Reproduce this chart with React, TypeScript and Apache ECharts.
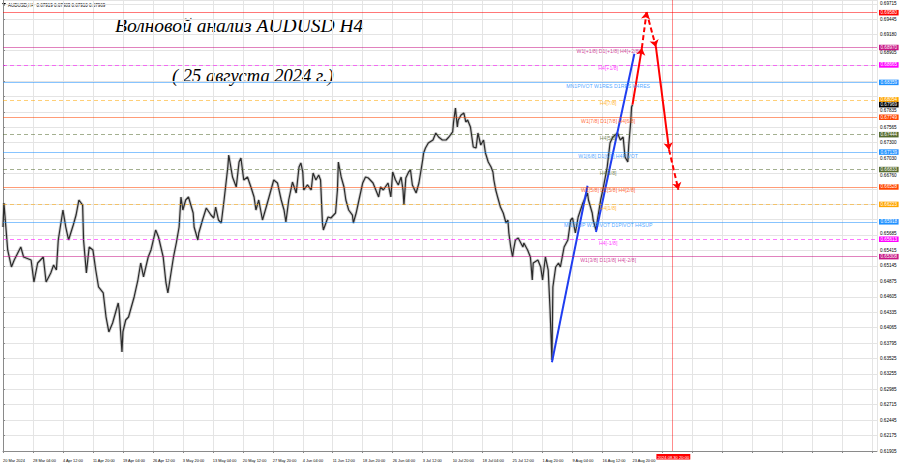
import React, { useEffect, useRef } from 'react';
import * as echarts from 'echarts';

const FONT = '"Liberation Sans", Arial, sans-serif';

const headerText = 'AUDUSD,H4  0.67919 0.67983 0.67910 0.67969';
const titleText = 'Волновой анализ AUDUSD H4';
const subtitleText = '( 25 августа 2024 г.)';

// x axis: one unit = one H4 bar, a label every 32 bars
const dateLabels = [
  '20 Mar 2024', '28 Mar 04:00', '4 Apr 12:00', '11 Apr 20:00', '19 Apr 04:00', '26 Apr 12:00',
  '3 May 20:00', '13 May 04:00', '20 May 12:00', '27 May 20:00', '4 Jun 04:00', '11 Jun 12:00',
  '18 Jun 20:00', '26 Jun 04:00', '3 Jul 12:00', '10 Jul 20:00', '18 Jul 04:00', '25 Jul 12:00',
  '1 Aug 20:00', '9 Aug 04:00', '16 Aug 12:00', '23 Aug 20:00',
];
const barsPerLabel = 32;
const lastVisibleBar = 933;

// y axis tick labels, bottom to top
const priceTickLabels = [
  '0.61905', '0.62175', '0.62445', '0.62715', '0.62985', '0.63255', '0.63525', '0.63795',
  '0.64065', '0.64335', '0.64605', '0.64875', '0.65145', '0.65415', '0.65685', '0.65955',
  '0.66220', '0.66490', '0.66760', '0.67030', '0.67300', '0.67565', '0.67835', '0.68105',
  '0.68365', '0.68635', '0.68905', '0.69180', '0.69445', '0.69715',
];
const priceMin = 0.61905;
const priceMax = 0.69802;
const priceStep = 0.0027;

// price path [bar, price]
const pricePath: [number, number][] = [
  [0, 0.65827], [1, 0.66248], [5, 0.65425], [9, 0.65127], [12, 0.65249], [19, 0.65477], [22, 0.65302],
  [30, 0.65249], [33, 0.64864], [37, 0.65197], [43, 0.65302], [46, 0.64864], [51, 0.65022], [54, 0.65162],
  [57, 0.65074], [59, 0.656], [64, 0.66125], [67, 0.65827], [70, 0.656], [75, 0.65862], [78, 0.66037],
  [81, 0.663], [85, 0.66212], [86, 0.656], [89, 0.65022], [92, 0.65477], [96, 0.65425], [99, 0.65074],
  [102, 0.64777], [107, 0.64672], [110, 0.64251], [113, 0.63989], [117, 0.64146], [123, 0.64497],
  [124, 0.64374], [127, 0.63639], [128, 0.63989], [131, 0.64199], [134, 0.64251], [140, 0.64602],
  [144, 0.64899], [147, 0.65197], [150, 0.64952], [155, 0.65302], [158, 0.65425], [163, 0.65775],
  [166, 0.65652], [171, 0.65302], [174, 0.64847], [176, 0.64672], [179, 0.64987], [182, 0.65302],
  [185, 0.65547], [188, 0.65827], [190, 0.66353], [192, 0.66125], [195, 0.663], [198, 0.66353],
  [203, 0.66072], [204, 0.65827], [208, 0.656], [209, 0.65722], [213, 0.6595], [217, 0.6616],
  [222, 0.66037], [225, 0.65985], [227, 0.66177], [230, 0.6595], [233, 0.65897], [236, 0.663],
  [240, 0.66878], [241, 0.67088], [245, 0.66703], [249, 0.66528], [252, 0.66965], [254, 0.67035],
  [257, 0.6665], [261, 0.66703], [265, 0.6651], [268, 0.66353], [270, 0.66125], [273, 0.663],
  [277, 0.6595], [281, 0.66177], [284, 0.66353], [289, 0.6665], [293, 0.66598], [297, 0.663],
  [300, 0.66125], [302, 0.65915], [305, 0.663], [309, 0.66615], [313, 0.66423], [316, 0.66878],
  [318, 0.66948], [320, 0.6679], [321, 0.66475], [325, 0.66563], [329, 0.66475], [331, 0.66773],
  [334, 0.6665], [337, 0.66738], [339, 0.6665], [341, 0.65897], [342, 0.65775], [347, 0.66002],
  [350, 0.65985], [353, 0.66037], [355, 0.66072], [357, 0.66475], [358, 0.66965], [361, 0.66703],
  [364, 0.66528], [366, 0.663], [369, 0.66125], [373, 0.66037], [374, 0.65897], [377, 0.66072],
  [380, 0.663], [384, 0.66598], [387, 0.66703], [390, 0.66685], [395, 0.66598], [398, 0.66475],
  [401, 0.66353], [403, 0.66528], [406, 0.66475], [411, 0.66598], [414, 0.66353], [416, 0.6679],
  [419, 0.6665], [422, 0.66563], [425, 0.66703], [427, 0.66475], [428, 0.66212], [430, 0.66685],
  [433, 0.6679], [435, 0.66825], [437, 0.66563], [441, 0.66423], [444, 0.66598], [448, 0.67],
  [449, 0.67123], [451, 0.67211], [454, 0.67298], [459, 0.67351], [462, 0.67473], [465, 0.67403],
  [469, 0.67351], [473, 0.67351], [476, 0.67403], [480, 0.67491], [481, 0.67666], [483, 0.67911],
  [485, 0.67578], [486, 0.67701], [489, 0.67788], [492, 0.67823], [494, 0.67666], [496, 0.67701],
  [499, 0.67578], [502, 0.67228], [505, 0.67211], [507, 0.67473], [510, 0.67263], [513, 0.67351],
  [515, 0.67123], [518, 0.66965], [521, 0.66878], [523, 0.6679], [524, 0.6665], [526, 0.66475],
  [528, 0.66353], [531, 0.66177], [534, 0.66072], [537, 0.65897], [539, 0.6595], [540, 0.65722],
  [542, 0.65477], [544, 0.65302], [545, 0.65425], [547, 0.656], [550, 0.65635], [555, 0.65477],
  [556, 0.65547], [560, 0.65425], [563, 0.65302], [565, 0.64899], [566, 0.65197], [571, 0.65249],
  [574, 0.65127], [576, 0.64899], [579, 0.65302], [582, 0.65074], [584, 0.64374], [586, 0.63498],
  [587, 0.64777], [590, 0.65127], [593, 0.65197], [595, 0.65127], [599, 0.65477], [603, 0.656],
  [606, 0.6595], [608, 0.65985], [611, 0.65722], [614, 0.66002], [619, 0.66248], [624, 0.66423],
  [625, 0.663], [629, 0.66072], [630, 0.6595], [633, 0.65775], [635, 0.66002], [638, 0.663],
  [641, 0.66528], [645, 0.66878], [648, 0.67298], [651, 0.67403], [656, 0.67473], [659, 0.67351],
  [662, 0.67403], [664, 0.67053], [667, 0.66965], [668, 0.67263], [670, 0.67648], [671, 0.67928],
  [672, 0.67969],
];
const currentPrice = 0.67969;

// Murrey / pivot levels
const levelPrices = [0.6958, 0.6897, 0.68665, 0.68359, 0.68054, 0.67749, 0.67444, 0.67139, 0.66833, 0.66528, 0.66223, 0.65918, 0.65613, 0.65308];
const levelColors = ['#ff0000', '#c71585', '#ff00ff', '#1e90ff', '#ffa500', '#ff4500', '#556b2f', '#1e90ff', '#556b2f', '#ff4500', '#ffa500', '#1e90ff', '#ff00ff', '#c71585'];
const levelDashed = [false, false, true, false, true, false, true, false, true, false, true, false, true, false];
const levelTexts = [
  '', 'W1[+1/8] D1[+1/8] H4[+2/8]', 'H4[+1/8]', 'MN1PIVOT W1RES D1RES H4RES', 'H4[7/8]',
  'W1[7/8] D1[7/8] H4[6/8]', 'H4[5/8]', 'W1[6/8] D1[6/8] H4PIVOT', 'H4[3/8]', 'W1[5/8] D1[5/8] H4[2/8]',
  'H4[1/8]', 'MN1SUP W1PIVOT D1PIVOT H4SUP', 'H4[-1/8]', 'W1[3/8] D1[3/8] H4[-2/8]',
];
const levelTextBar = 646;

// vertical time marker
const markerBar = 714;
const markerLabel = '2024.08.30 20:00';

// wave lines
const blueWaves: [number, number][][] = [
  [[586, 0.6346], [624, 0.6655]],
  [[633, 0.6574], [674, 0.6886]],
];
const redForecast: [number, number][] = [
  [672, 0.6797], [682, 0.6896], [687, 0.6959], [697, 0.6898], [711, 0.6718], [721, 0.6648],
];
const redDashed = [false, true, true, false, true];

const TAG_FONT = 4.6;
const DATE_FONT = 3.9;
const GRID_TOP = 0;
const GRID_BOTTOM = 17;
const CHART_H = 468;

// axis labels that would sit under a price tag are hidden, near ones are nudged away
const tagPrices = [...levelPrices, currentPrice];
function priceAxisLabel(_v: number, i: number): string {
  const text = priceTickLabels[i];
  if (!text) return '';
  const value = Number(text);
  const pxPerUnit = (CHART_H - GRID_TOP - GRID_BOTTOM) / (priceMax - priceMin);
  let best = Infinity;
  for (const t of tagPrices) {
    const d = (value - t) * pxPerUnit; // >0: label above tag
    if (Math.abs(d) < Math.abs(best)) best = d;
  }
  if (Math.abs(best) < 3) return '';
  if (Math.abs(best) < 5.6) {
    const shift = Math.min(4, Math.ceil(5.6 - Math.abs(best)));
    return `{${best > 0 ? 'u' : 'd'}${shift}|${text}}`;
  }
  return text;
}
const shiftRich: Record<string, any> = {};
for (let s = 1; s <= 4; s++) {
  shiftRich['u' + s] = { fontSize: TAG_FONT, fontFamily: FONT, color: '#000', padding: [0, 0, 2 * s, 0] };
  shiftRich['d' + s] = { fontSize: TAG_FONT, fontFamily: FONT, color: '#000', padding: [2 * s, 0, 0, 0] };
}

function buildOption() {
  const levelLines = levelPrices.map((p, i) => ({
    yAxis: p,
    lineStyle: {
      color: levelColors[i] + '88',
      width: 1,
      type: levelDashed[i] ? [4, 3] : 'solid',
    },
    label: { backgroundColor: levelColors[i], color: '#ffffff' },
  }));
  const currentTag = {
    yAxis: currentPrice,
    lineStyle: { color: 'rgba(0,0,0,0)', width: 1 },
    label: { backgroundColor: '#000000', color: '#ffffff' },
  };
  const marker = {
    xAxis: markerBar,
    lineStyle: { color: 'rgba(255,0,0,0.45)', width: 1, type: 'solid' },
    label: {
      position: 'start',
      distance: 3,
      fontSize: 4.1,
      color: '#ffffff',
      backgroundColor: '#ff0000',
      padding: [1, 1, 0.5, 1],
      offset: [1.5, 0],
      formatter: markerLabel,
    },
  };

  const textItems = levelPrices
    .map((p, i) => ({
      value: [levelTextBar, p],
      label: { color: levelColors[i], formatter: levelTexts[i] },
    }))
    .filter((d, i) => levelTexts[i] !== '');

  const redSegments = redDashed.map((dashed, i) => ({
    coords: [redForecast[i], redForecast[i + 1]],
    lineStyle: { type: dashed ? [5, 3] : 'solid' },
  }));

  return {
    animation: false,
    backgroundColor: '#ffffff',
    textStyle: { fontFamily: FONT },
    grid: { left: 2, right: 23, top: GRID_TOP, bottom: GRID_BOTTOM, containLabel: false },
    xAxis: {
      type: 'value',
      min: 0,
      max: lastVisibleBar,
      interval: barsPerLabel,
      axisLine: { show: true, onZero: false, lineStyle: { color: '#8a8a8a' } },
      axisTick: { show: true, length: 2, lineStyle: { color: '#8a8a8a' } },
      axisLabel: {
        show: true,
        fontSize: DATE_FONT,
        fontFamily: FONT,
        color: '#000',
        align: 'left',
        margin: 7,
        showMinLabel: true,
        showMaxLabel: false,
        formatter: (_v: number, i: number) => dateLabels[i] ?? '',
      },
      splitLine: { show: true, lineStyle: { color: '#e4e4e4', width: 1 } },
    },
    yAxis: {
      type: 'value',
      position: 'right',
      min: priceMin,
      max: priceMax,
      interval: priceStep,
      axisLine: { show: true, lineStyle: { color: '#8a8a8a' } },
      axisTick: { show: true, length: 2, lineStyle: { color: '#8a8a8a' } },
      axisLabel: {
        fontSize: TAG_FONT,
        fontFamily: FONT,
        color: '#000',
        margin: 3,
        showMaxLabel: false,
        formatter: priceAxisLabel,
        rich: shiftRich,
      },
      splitLine: { show: true, lineStyle: { color: '#e4e4e4', width: 1 } },
    },
    series: [
      {
        type: 'line',
        data: [],
        z: 1,
        silent: true,
        markLine: {
          silent: true,
          animation: false,
          precision: 5,
          symbol: ['none', 'none'],
          label: {
            show: true,
            position: 'end',
            distance: 2,
            color: '#ffffff',
            fontSize: TAG_FONT,
            fontFamily: FONT,
            padding: [0.5, 1.5, 0, 1.5],
            formatter: (p: any) => Number(p.value).toFixed(5),
          },
          data: [...levelLines, marker, currentTag],
        },
      },
      {
        type: 'line',
        data: pricePath,
        z: 2,
        silent: true,
        showSymbol: false,
        symbol: 'none',
        lineStyle: { color: 'rgba(100,100,100,0.3)', width: 3 },
      },
      {
        type: 'line',
        data: pricePath,
        z: 3,
        silent: true,
        showSymbol: false,
        symbol: 'none',
        lineStyle: { color: '#2b2b2b', width: 1.2 },
      },
      {
        type: 'lines',
        coordinateSystem: 'cartesian2d',
        z: 4,
        silent: true,
        symbol: ['none', 'none'],
        lineStyle: { color: '#1f3df0', width: 2, opacity: 1 },
        data: blueWaves.map((c) => ({ coords: c })),
      },
      {
        type: 'lines',
        coordinateSystem: 'cartesian2d',
        z: 5,
        silent: true,
        symbol: ['none', 'arrow'],
        symbolSize: 7,
        lineStyle: { color: '#ff0000', width: 2, opacity: 1 },
        data: redSegments,
      },
      {
        type: 'scatter',
        z: 6,
        silent: true,
        symbolSize: 1,
        itemStyle: { color: 'rgba(0,0,0,0)' },
        label: {
          show: true,
          position: 'bottom',
          distance: 0.5,
          fontSize: 5.2,
          fontFamily: FONT,
        },
        data: textItems,
      },
    ],
    graphic: [
      {
        type: 'polygon',
        shape: { points: [[2, 3], [6, 3], [4, 6]] },
        style: { fill: '#000' },
        silent: true,
      },
      {
        type: 'text',
        x: 8,
        y: 5,
        silent: true,
        style: { text: headerText, fontSize: 4.5, fontFamily: FONT, fill: '#000', verticalAlign: 'middle' },
      },
      {
        type: 'text',
        x: 115,
        y: 25,
        silent: true,
        style: {
          text: titleText,
          fontSize: 19.5,
          fontStyle: 'italic',
          fontFamily: '"Liberation Serif", "DejaVu Serif", serif',
          fill: '#000',
          verticalAlign: 'middle',
        },
      },
      {
        type: 'text',
        x: 172,
        y: 76,
        silent: true,
        style: {
          text: subtitleText,
          fontSize: 18.5,
          fontStyle: 'italic',
          fontFamily: '"Liberation Serif", "DejaVu Serif", serif',
          fill: '#000',
          verticalAlign: 'middle',
        },
      },
    ],
  };
}

export default function App() {
  const ref = useRef<HTMLDivElement>(null);
  useEffect(() => {
    document.body.style.margin = '0';
    const chart = echarts.init(ref.current as HTMLDivElement, null, { renderer: 'svg' });
    chart.setOption(buildOption() as any);
    return () => chart.dispose();
  }, []);
  return (
    <div
      ref={ref}
      style={{ position: 'fixed', left: 0, top: 0, width: 900, height: 468, background: '#ffffff' }}
    />
  );
}
